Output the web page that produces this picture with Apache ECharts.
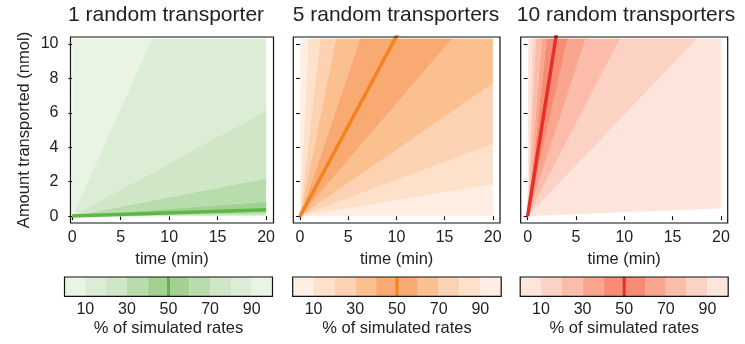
<!DOCTYPE html>
<html><head><meta charset="utf-8">
<script src="https://cdn.jsdelivr.net/npm/echarts@6/dist/echarts.min.js"></script>
<style>html,body{margin:0;padding:0;background:#fff}#c{width:745px;height:344px}</style>
</head><body><div id="c"></div>
<script>
// ---------------- data ----------------
const panelTitles = ['1 random transporter', '5 random transporters', '10 random transporters'];
const percentiles = [0, 10, 20, 30, 40, 50, 60, 70, 80, 90, 100];
// transport rate (nmol/min) at each percentile of the simulated rates
const rates1 = [0.0005, 0.0015, 0.003, 0.0065, 0.0115, 0.0185, 0.0425, 0.11, 0.3075, 1.256, 340];
const rates2 = [0.0, 0.0925, 0.21, 0.385, 0.654, 1.045, 1.66, 2.78, 4.95, 12.0, 150];
const rates3 = [0.023, 0.589, 1.078, 1.717, 2.51, 3.55, 5.26, 7.1, 12.4, 21.5, 172];
const xTicks = [0, 5, 10, 15, 20];
const yTicks = [0, 2, 4, 6, 8, 10];
const cbTicks = [10, 30, 50, 70, 90];
const tEnd = 20;       // min
const fillTop = 10.3;  // nmol, top of shaded region
const greens = ['#e9f4e5', '#dcedd5', '#cfe7c6', '#b9dcac', '#a2d191'];
const oranges = ['#feeee3', '#fde1cb', '#fdd2b2', '#fbc08f', '#f8aa72'];
const reds = ['#fde5dc', '#fcd2c5', '#fbbdaa', '#f9a68f', '#f58c73'];
const medianColors = ['#5cb947', '#f5821f', '#e8302a'];

// ---------------- layout ----------------
const FONT = "'Liberation Sans', Arial, Helvetica, sans-serif";
const TXT = '#222';
const panels = [
  {left: 70.5, width: 203, xmin: -0.18, xmax: 20.77, titleX: 166},
  {left: 293.3, width: 206.7, xmin: -0.7, xmax: 20.75, titleX: 396},
  {left: 520.7, width: 207, xmin: -0.72, xmax: 20.7, titleX: 626}
];
const cbars = [
  {left: 64.5, width: 208},
  {left: 292.7, width: 208.5},
  {left: 520.2, width: 208}
];
const allRates = [rates1, rates2, rates3];
const palettes = [greens, oranges, reds];

function bandData() {
  const d = [];
  for (let i = 0; i < percentiles.length - 1; i++) {
    d.push([i, Math.min(i, percentiles.length - 2 - i)]);
  }
  return d;
}

function fanRender(rates, palette) {
  return function (params, api) {
    const i = api.value(0), lvl = api.value(1);
    const lo = rates[i], hi = rates[i + 1];
    const pts = [[0, 0]];
    pts.push(lo * tEnd <= fillTop ? [tEnd, lo * tEnd] : [fillTop / lo, fillTop]);
    if (lo * tEnd < fillTop && hi * tEnd > fillTop) pts.push([tEnd, fillTop]);
    pts.push(hi * tEnd <= fillTop ? [tEnd, hi * tEnd] : [fillTop / hi, fillTop]);
    return {
      type: 'polygon',
      shape: {points: pts.map(p => api.coord(p))},
      style: {fill: palette[lvl], stroke: palette[lvl], lineWidth: 0.3}
    };
  };
}

function cbRender(palette) {
  return function (params, api) {
    const i = api.value(0), lvl = api.value(1);
    const a = api.coord([percentiles[i], 1]);
    const b = api.coord([percentiles[i + 1], 0]);
    return {
      type: 'rect',
      shape: {x: a[0], y: a[1], width: b[0] - a[0], height: b[1] - a[1]},
      style: {fill: palette[lvl]}
    };
  };
}

const grid = [], xAxis = [], yAxis = [], series = [], graphic = [];
panels.forEach((p, k) => {
  grid.push({left: p.left, top: 37, width: p.width, height: 186, show: true,
    borderColor: '#111', borderWidth: 1.2, backgroundColor: 'transparent', z: 10});
  xAxis.push({
    type: 'value', gridIndex: k, min: p.xmin, max: p.xmax,
    axisLine: {show: false}, splitLine: {show: false},
    axisTick: {show: true, length: 4, lineStyle: {color: '#111', width: 1.1}, customValues: xTicks},
    axisLabel: {customValues: xTicks, color: TXT, fontSize: 16, fontFamily: FONT, margin: 7},
    name: 'time (min)', nameLocation: 'middle', nameGap: 28,
    nameTextStyle: {color: TXT, fontSize: 16.5, fontFamily: FONT}
  });
  yAxis.push({
    type: 'value', gridIndex: k, min: -0.4, max: 10.4,
    axisLine: {show: false}, splitLine: {show: false},
    axisTick: {show: true, length: 4, lineStyle: {color: '#111', width: 1.1}, customValues: yTicks},
    axisLabel: {show: k === 0, customValues: yTicks, color: TXT, fontSize: 16, fontFamily: FONT, margin: 12},
    name: k === 0 ? 'Amount transported (nmol)' : '', nameLocation: 'middle', nameGap: 38,
    nameTextStyle: {color: TXT, fontSize: 16.5, fontFamily: FONT}
  });
  series.push({
    type: 'custom', xAxisIndex: k, yAxisIndex: k, silent: true,
    renderItem: fanRender(allRates[k], palettes[k]), data: bandData(),
    encode: {x: -1, y: -1}, z: 2
  });
  series.push({
    type: 'line', xAxisIndex: k, yAxisIndex: k, silent: true, showSymbol: false, symbol: 'none',
    data: [[0, 0], [tEnd, allRates[k][5] * tEnd]], clip: true,
    lineStyle: {color: medianColors[k], width: 3.5}, z: 4
  });
  graphic.push({
    type: 'text', x: p.titleX, y: 5, silent: true,
    style: {text: panelTitles[k], fill: TXT, font: '21px ' + FONT, textAlign: 'center', textVerticalAlign: 'top'}
  });
});

cbars.forEach((c, k) => {
  const gi = 3 + k;
  grid.push({left: c.left, top: 277, width: c.width, height: 19.3, show: true,
    borderColor: '#111', borderWidth: 1.2, backgroundColor: 'transparent', z: 10});
  xAxis.push({
    type: 'value', gridIndex: gi, min: 0, max: 100,
    axisLine: {show: false}, splitLine: {show: false}, axisTick: {show: false},
    axisLabel: {customValues: cbTicks, color: TXT, fontSize: 16, fontFamily: FONT, margin: 5},
    name: '% of simulated rates', nameLocation: 'middle', nameGap: 24,
    nameTextStyle: {color: TXT, fontSize: 16.5, fontFamily: FONT}
  });
  yAxis.push({type: 'value', gridIndex: gi, min: 0, max: 1, show: false});
  series.push({
    type: 'custom', xAxisIndex: gi, yAxisIndex: gi, silent: true,
    renderItem: cbRender(palettes[k]), data: bandData(), encode: {x: -1, y: -1}, z: 2
  });
  series.push({
    type: 'line', xAxisIndex: gi, yAxisIndex: gi, silent: true, showSymbol: false, symbol: 'none',
    data: [[percentiles[5], 0], [percentiles[5], 1]],
    lineStyle: {color: medianColors[k], width: 3}, z: 4
  });
});

const chart = echarts.init(document.getElementById('c'), null, {renderer: 'canvas'});
chart.setOption({
  animation: false,
  backgroundColor: '#fff',
  textStyle: {fontFamily: FONT},
  grid, xAxis, yAxis, series, graphic
});
</script>
</body></html>
